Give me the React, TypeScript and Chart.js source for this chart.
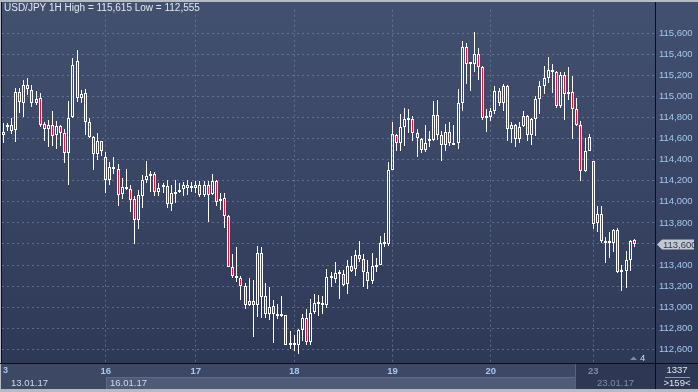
import React, { useEffect, useRef } from "react";
import { Chart, registerables } from "chart.js";

Chart.register(...registerables);

const symbol = "USD/JPY";
const timeframe = "1H";

const opens = [
  114.631, 114.712, 114.734, 114.681, 115.038, 114.941, 115.113, 115.066, 114.936, 114.982,
  114.740, 114.694, 114.734, 114.631, 114.724, 114.656, 114.461, 114.808, 115.339, 114.982,
  115.029, 114.759, 114.615, 114.454, 114.573, 114.429, 114.206, 114.330, 114.312, 114.075,
  114.138, 114.119, 114.026, 113.824, 114.057, 114.206, 114.247, 114.268, 114.097, 114.138,
  114.150, 113.982, 114.075, 114.097, 114.119, 114.135, 114.135, 114.135, 114.163, 114.066,
  114.156, 114.072, 114.200, 114.004, 114.032, 113.867, 113.380, 113.296, 113.274, 113.203,
  113.020, 113.057, 113.017, 113.513, 113.110, 112.939, 113.008, 112.939, 112.917, 112.924,
  112.638, 112.647, 112.638, 112.784, 112.896, 112.669, 112.955, 113.032, 113.020, 113.020,
  113.274, 113.265, 113.315, 113.315, 113.222, 113.390, 113.358, 113.492, 113.460, 113.336,
  113.250, 113.383, 113.399, 113.595, 113.595, 114.305, 114.631, 114.554, 114.709, 114.774,
  114.787, 114.650, 114.600, 114.494, 114.573, 114.587, 114.827, 114.631, 114.538, 114.666,
  114.563, 114.554, 114.936, 115.472, 115.314, 115.308, 115.402, 115.283, 114.796, 114.802,
  114.858, 115.050, 114.936, 115.097, 114.694, 114.734, 114.600, 114.718, 114.818, 114.631,
  114.787, 114.976, 115.100, 115.178, 115.255, 115.237, 114.913, 115.206, 115.020, 115.038,
  114.880, 114.734, 114.289, 114.485, 114.386, 113.796, 113.889, 113.632, 113.609, 113.609,
  113.734, 113.330, 113.343, 113.445, 113.641,
];

const highs = [
  114.752, 114.750, 114.796, 115.081, 115.076, 115.153, 115.178, 115.106, 115.050, 115.029,
  114.759, 114.780, 114.864, 114.764, 114.734, 114.687, 114.957, 115.364, 115.442, 115.060,
  115.069, 114.796, 114.625, 114.656, 114.576, 114.470, 114.377, 114.423, 114.355, 114.231,
  114.315, 114.156, 114.057, 114.112, 114.252, 114.392, 114.289, 114.284, 114.175, 114.181,
  114.206, 114.159, 114.206, 114.175, 114.191, 114.212, 114.191, 114.200, 114.200, 114.200,
  114.200, 114.268, 114.206, 114.082, 114.082, 113.877, 113.507, 113.569, 113.296, 113.227,
  113.281, 113.259, 113.576, 113.569, 113.234, 113.187, 113.064, 113.026, 113.104, 112.927,
  112.778, 112.740, 112.790, 112.933, 112.980, 113.073, 113.125, 113.119, 113.110, 113.362,
  113.336, 113.430, 113.352, 113.352, 113.451, 113.485, 113.539, 113.632, 113.507, 113.451,
  113.513, 113.467, 113.672, 113.700, 114.377, 114.759, 114.647, 114.833, 114.889, 114.883,
  114.811, 114.687, 114.610, 114.727, 114.671, 114.960, 114.967, 114.669, 114.736, 114.759,
  114.734, 115.069, 115.525, 115.504, 115.318, 115.615, 115.457, 115.293, 114.883, 114.889,
  115.097, 115.076, 115.122, 115.106, 114.759, 114.740, 114.759, 114.864, 114.827, 114.795,
  115.007, 115.144, 115.293, 115.376, 115.308, 115.246, 115.230, 115.230, 115.277, 115.190,
  114.982, 114.764, 114.610, 114.641, 114.392, 113.958, 113.963, 113.662, 113.709, 113.746,
  113.756, 113.399, 113.529, 113.641, 113.647,
];

const lows = [
  114.557, 114.671, 114.641, 114.569, 114.843, 114.802, 115.013, 114.904, 114.920, 114.709,
  114.578, 114.522, 114.532, 114.501, 114.532, 114.368, 114.159, 114.799, 114.951, 114.936,
  114.634, 114.610, 114.305, 114.398, 114.438, 114.082, 114.159, 114.268, 113.963, 114.026,
  114.112, 113.905, 113.600, 113.746, 113.942, 114.181, 114.097, 114.057, 114.057, 114.088,
  113.942, 113.917, 113.989, 114.088, 114.057, 114.066, 114.097, 114.082, 114.044, 114.044,
  113.812, 114.066, 113.958, 113.920, 113.756, 113.377, 113.274, 113.237, 113.064, 112.985,
  113.015, 112.715, 112.908, 112.901, 112.901, 112.877, 112.659, 112.886, 112.908, 112.638,
  112.607, 112.585, 112.555, 112.678, 112.638, 112.638, 112.939, 112.917, 112.939, 112.989,
  113.187, 113.227, 113.073, 113.197, 113.129, 113.336, 113.296, 113.430, 113.190, 113.175,
  113.222, 113.336, 113.397, 113.569, 113.585, 114.300, 114.485, 114.485, 114.532, 114.656,
  114.573, 114.429, 114.461, 114.470, 114.517, 114.578, 114.585, 114.392, 114.478, 114.532,
  114.538, 114.501, 114.858, 115.116, 115.053, 115.230, 115.159, 114.774, 114.662, 114.771,
  114.836, 114.911, 114.858, 114.578, 114.554, 114.522, 114.554, 114.709, 114.573, 114.541,
  114.625, 114.833, 115.022, 115.131, 115.035, 114.889, 114.895, 114.780, 114.967, 114.594,
  114.718, 114.196, 114.286, 114.482, 113.740, 113.709, 113.609, 113.423, 113.470, 113.523,
  113.321, 113.157, 113.181, 113.343, 113.569,
];

const closes = [
  114.659, 114.727, 114.671, 115.038, 114.945, 115.113, 115.069, 114.936, 114.973, 114.727,
  114.696, 114.734, 114.625, 114.724, 114.656, 114.461, 114.796, 115.299, 114.982, 115.020,
  114.759, 114.619, 114.454, 114.573, 114.479, 114.206, 114.330, 114.308, 114.066, 114.138,
  114.122, 114.014, 113.824, 114.063, 114.212, 114.247, 114.268, 114.097, 114.135, 114.150,
  113.982, 114.082, 114.097, 114.110, 114.156, 114.156, 114.144, 114.163, 114.066, 114.156,
  114.066, 114.200, 113.998, 114.029, 113.863, 113.380, 113.296, 113.274, 113.203, 113.017,
  113.057, 113.017, 113.513, 113.097, 112.933, 113.001, 112.939, 112.917, 112.927, 112.644,
  112.654, 112.638, 112.784, 112.896, 112.669, 112.948, 113.041, 113.041, 113.036, 113.283,
  113.283, 113.327, 113.327, 113.213, 113.390, 113.346, 113.492, 113.460, 113.336, 113.250,
  113.390, 113.390, 113.607, 113.616, 114.305, 114.647, 114.554, 114.709, 114.787, 114.787,
  114.650, 114.603, 114.494, 114.563, 114.587, 114.827, 114.631, 114.535, 114.666, 114.563,
  114.541, 114.936, 115.472, 115.308, 115.308, 115.402, 115.283, 114.796, 114.802, 114.864,
  115.050, 114.936, 115.097, 114.694, 114.734, 114.600, 114.712, 114.818, 114.631, 114.787,
  114.976, 115.097, 115.178, 115.255, 115.237, 114.913, 115.206, 115.020, 115.038, 114.880,
  114.727, 114.289, 114.485, 114.615, 113.786, 113.889, 113.632, 113.609, 113.625, 113.734,
  113.330, 113.343, 113.445, 113.632, 113.600,
];

const dayTickIndex = [25, 47, 71, 95, 119, 144];
const dayTickLabels = ["16", "17", "18", "19", "20", "23"];
const priceTicks = [
  112.6, 112.8, 113.0, 113.2, 113.4, 113.6, 113.8, 114.0,
  114.2, 114.4, 114.6, 114.8, 115.0, 115.2, 115.4, 115.6,
];
const dateLabels = ["13.01.17", "16.01.17", "23.01.17"];
const partialDayLabel = "3";
const barCountLabel = "1337";
const visibleBarsLabel = ">159<";
const markerLabel = "4";

const X_MIN = -0.317;
const X_MAX = 159.07;
const Y_MIN = 112.47;
const Y_MAX = 115.824;

const FONT = '"Liberation Sans", Arial, sans-serif';
const RED = "#e3123c";
const WHITE = "#ffffff";
const GRID = "rgba(128,146,180,0.55)";
const AXIS_BLUE = "#a4c7ee";

const fmt = (v: number) => v.toFixed(3).replace(".", ",");

const snapPlugin = {
  id: "snap",
  beforeDatasetsDraw(chart: any) {
    chart.data.datasets.forEach((_d: any, di: number) => {
      const meta = chart.getDatasetMeta(di);
      meta.data.forEach((el: any) => {
        el.x = Math.floor(el.x) + 0.5;
        el.y = Math.round(el.y);
        el.base = Math.round(el.base);
      });
    });
  },
};

const chromePlugin = {
  id: "chrome",
  beforeDraw(chart: any) {
    const ctx = chart.ctx as CanvasRenderingContext2D;
    const W = chart.width;
    const area = chart.chartArea;
    const g = ctx.createLinearGradient(0, 0, 0, area.bottom);
    g.addColorStop(0, "#435170");
    g.addColorStop(1, "#2e3957");
    ctx.save();
    ctx.fillStyle = g;
    ctx.fillRect(0, 0, W, area.bottom);
    ctx.fillStyle = "#3d4864";
    ctx.fillRect(0, area.bottom, W, chart.height - area.bottom);
    const xs = chart.scales.x;
    const x16 = Math.round(xs.getPixelForValue(dayTickIndex[0]));
    ctx.fillStyle = "#4e5a78";
    ctx.fillRect(x16, 377, 575 - x16, 12);
    ctx.fillStyle = "#5d6986";
    ctx.fillRect(x16, 377, 575 - x16, 1);
    ctx.fillRect(x16, 377, 1, 12);
    ctx.fillStyle = "#2e3854";
    ctx.fillRect(575, area.bottom + 1, area.right - 575, 25);
    ctx.fillStyle = "#56627e";
    ctx.fillRect(575, area.bottom + 1, 1, 25);
    ctx.fillStyle = "#2e3854";
    ctx.fillRect(area.right, area.bottom, W - area.right, 26);
    ctx.restore();
  },
  afterDraw(chart: any) {
    const ctx = chart.ctx as CanvasRenderingContext2D;
    const W = chart.width;
    const H = chart.height;
    const area = chart.chartArea;
    const ys = chart.scales.y;
    const xs = chart.scales.x;
    ctx.save();
    ctx.fillStyle = "#b5bac3";
    ctx.fillRect(0, 0, W, 2);
    ctx.fillRect(0, 0, 1, H);
    ctx.fillRect(0, H - 3, W, 3);
    ctx.fillStyle = "#0b0e14";
    ctx.fillRect(1, 2, 1, area.bottom - 2);
    ctx.fillRect(0, area.bottom, W, 1);
    ctx.fillRect(area.right, 2, 1, H - 5);

    const hi = Math.max(...highs);
    const lo = Math.min(...lows);
    ctx.font = `10px ${FONT}`;
    ctx.fillStyle = "#e2e7ef";
    ctx.textBaseline = "middle";
    ctx.textAlign = "left";
    ctx.fillText(`${symbol} ${timeframe} High = ${fmt(hi)} Low = ${fmt(lo)}`, 4, 8.5);

    ctx.font = `bold 9px ${FONT}`;
    ctx.fillStyle = AXIS_BLUE;
    ctx.fillText(partialDayLabel, 3, 371);

    ctx.font = `9.5px ${FONT}`;
    ctx.fillStyle = "#d2dae7";
    ctx.fillText(dateLabels[0], 11, 383.5);
    ctx.fillText(dateLabels[1], Math.round(xs.getPixelForValue(dayTickIndex[0])) + 4, 383.5);
    ctx.fillStyle = "#808ca5";
    ctx.fillText(dateLabels[2], 597, 383.5);

    ctx.font = `9.5px ${FONT}`;
    ctx.fillStyle = "#dfe5ee";
    ctx.textAlign = "center";
    ctx.fillText(barCountLabel, 677, 370.5);
    ctx.fillText(visibleBarsLabel, 677, 383.5);
    ctx.fillStyle = "#8d97ab";
    ctx.fillRect(665, 377, 25, 1);

    ctx.fillStyle = "#7f89a0";
    ctx.beginPath();
    ctx.moveTo(630, 360);
    ctx.lineTo(633.5, 356.5);
    ctx.lineTo(637, 360);
    ctx.closePath();
    ctx.fill();
    ctx.fillStyle = "#d6dde8";
    ctx.textAlign = "left";
    ctx.fillText(markerLabel, 640, 358.5);

    const last = closes[closes.length - 1];
    const py = Math.round(ys.getPixelForValue(last)) + 0.5;
    ctx.fillStyle = "#c4c9d1";
    ctx.beginPath();
    ctx.moveTo(area.right + 2, py);
    ctx.lineTo(area.right + 7, py - 5);
    ctx.lineTo(W - 4, py - 5);
    ctx.lineTo(W - 4, py + 5);
    ctx.lineTo(area.right + 7, py + 5);
    ctx.closePath();
    ctx.fill();
    ctx.fillStyle = "#2f3850";
    ctx.font = `9.5px ${FONT}`;
    ctx.fillText(fmt(last), area.right + 8, py + 0.5);
    ctx.restore();
  },
};

export default function App() {
  const ref = useRef<HTMLCanvasElement | null>(null);

  useEffect(() => {
    document.body.style.margin = "0";
    const canvas = ref.current;
    if (!canvas) return;

    const idx = opens.map((_, i) => i);
    const bodyData = idx.map((i) => ({ x: i, y: [opens[i], closes[i]] }));
    const upperWick = idx.map((i) => ({ x: i, y: [Math.max(opens[i], closes[i]), highs[i]] }));
    const lowerWick = idx.map((i) => ({ x: i, y: [lows[i], Math.min(opens[i], closes[i])] }));
    const bodyFill = idx.map((i) => (closes[i] < opens[i] ? RED : "rgba(0,0,0,0)"));

    const chart = new Chart(canvas, {
      type: "bar",
      data: {
        datasets: [
          {
            label: "body",
            data: bodyData as any,
            backgroundColor: bodyFill,
            borderColor: WHITE,
            borderWidth: 1,
            borderSkipped: false,
            barThickness: 3,
            minBarLength: 2,
            grouped: false,
            inflateAmount: 0,
          } as any,
          {
            label: "upper",
            data: upperWick as any,
            backgroundColor: WHITE,
            borderWidth: 0,
            barThickness: 1,
            grouped: false,
            inflateAmount: 0,
          } as any,
          {
            label: "lower",
            data: lowerWick as any,
            backgroundColor: WHITE,
            borderWidth: 0,
            barThickness: 1,
            grouped: false,
            inflateAmount: 0,
          } as any,
        ],
      },
      options: {
        responsive: false,
        animation: false,
        devicePixelRatio: 1,
        layout: { padding: { left: 2, top: 3, right: 0, bottom: 0 } },
        plugins: { legend: { display: false }, tooltip: { enabled: false } },
        scales: {
          x: {
            type: "linear",
            min: X_MIN,
            max: X_MAX,
            offset: false,
            afterBuildTicks: (s: any) => {
              s.ticks = dayTickIndex.map((v) => ({ value: v }));
            },
            afterFit: (s: any) => {
              s.height = 29;
            },
            grid: { color: GRID, drawTicks: false, offset: false },
            border: { display: false, dash: [2, 3] },
            ticks: {
              autoSkip: false,
              maxRotation: 0,
              padding: 3,
              font: { family: FONT, size: 9.5, weight: "bold" },
              color: (c: any) => (c.index === dayTickLabels.length - 1 ? "#7f8ba5" : AXIS_BLUE),
              callback: (_v: any, i: number) => dayTickLabels[i],
            },
          } as any,
          y: {
            position: "right",
            min: Y_MIN,
            max: Y_MAX,
            afterBuildTicks: (s: any) => {
              s.ticks = priceTicks.map((v) => ({ value: v }));
            },
            afterFit: (s: any) => {
              s.width = 43;
            },
            grid: { color: GRID, drawTicks: false },
            border: { display: false, dash: [2, 3] },
            ticks: {
              padding: 4,
              font: { family: FONT, size: 9.5 },
              color: AXIS_BLUE,
              callback: (v: any) => fmt(Number(v)),
            },
          } as any,
        },
      },
      plugins: [chromePlugin, snapPlugin],
    });
    return () => chart.destroy();
  }, []);

  return (
    <div style={{ position: "absolute", left: 0, top: 0, width: 698, height: 392 }}>
      <canvas ref={ref} width={698} height={392} style={{ display: "block", width: 698, height: 392 }} />
    </div>
  );
}
